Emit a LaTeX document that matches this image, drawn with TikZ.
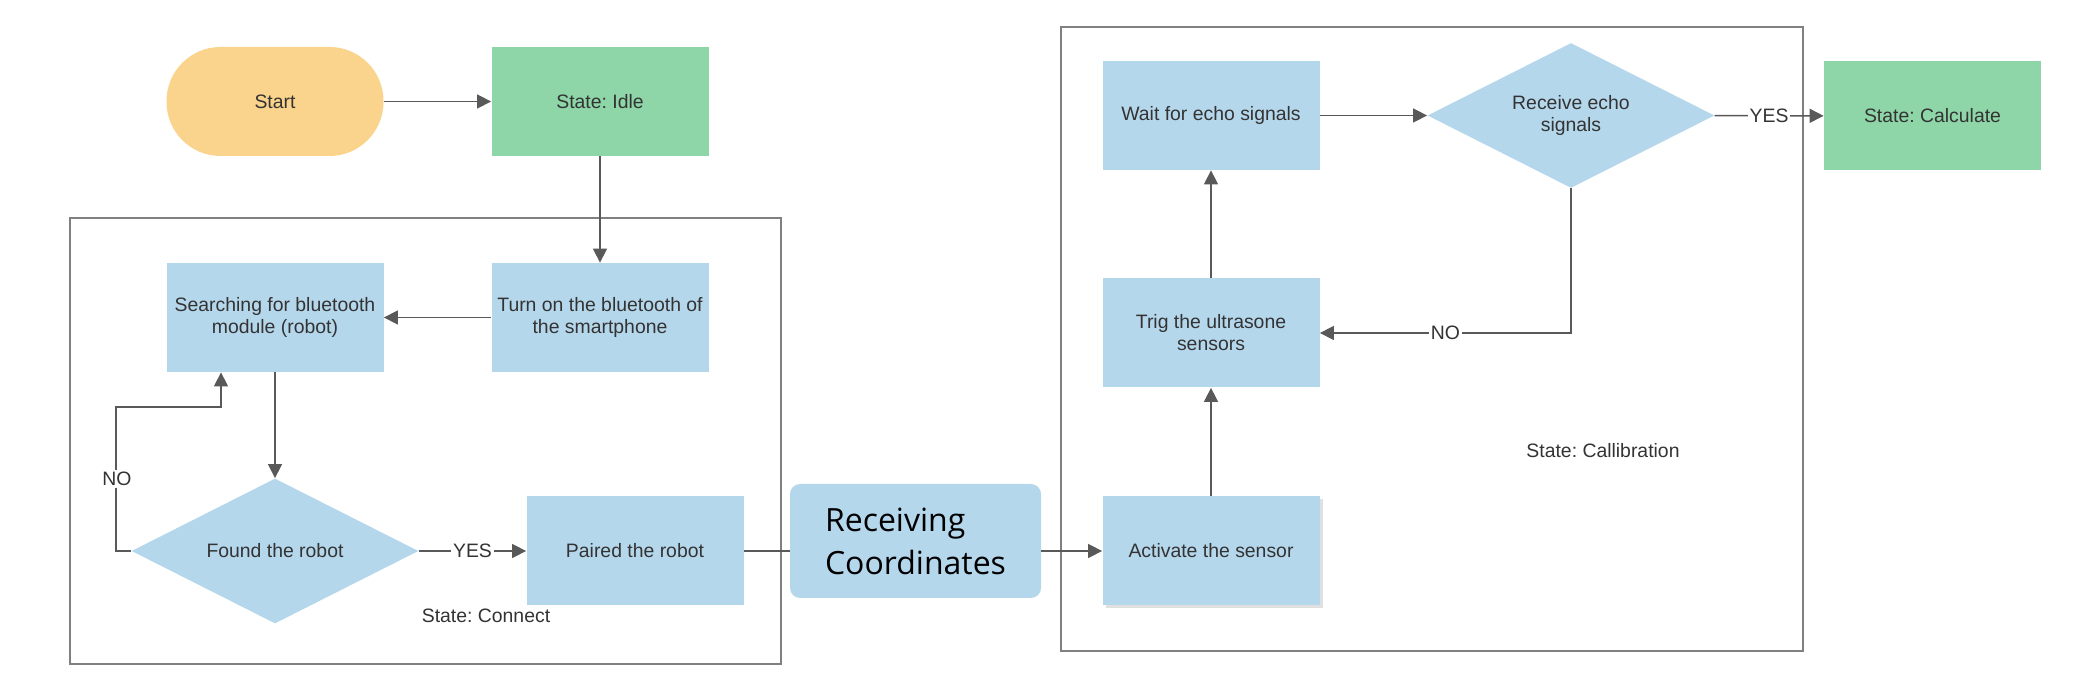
\documentclass[tikz,border=0pt]{standalone}
\usepackage{fontspec}
\setmainfont{Liberation Sans}
\newfontfamily\recvfont{Open Sans}
\usetikzlibrary{shapes.geometric,arrows.meta,shadows}
\frenchspacing
\definecolor{ink}{HTML}{333333}
\definecolor{wire}{HTML}{595959}
\definecolor{framec}{HTML}{808080}
\definecolor{startc}{HTML}{FAD48C}
\definecolor{statec}{HTML}{8ED6A8}
\definecolor{actc}{HTML}{B5D7EC}
\tikzset{
  txt/.style={font=\fontsize{9.7}{11}\selectfont,text=ink,align=center},
  termbox/.style={txt,rectangle,rounded corners=27pt,fill=startc,minimum width=108.5pt,minimum height=54.5pt,inner sep=0pt},
  statebox/.style={txt,rectangle,fill=statec,minimum width=108.5pt,minimum height=54.5pt,inner sep=1pt},
  actbox/.style={txt,rectangle,fill=actc,minimum width=108.5pt,minimum height=54.5pt,inner sep=1pt},
  decbox/.style={txt,diamond,shape aspect=2,fill=actc,minimum width=143.5pt,minimum height=72.5pt,inner sep=0pt},
  recvbox/.style={rectangle,rounded corners=5pt,fill=actc,minimum width=125.5pt,minimum height=57pt,
    font=\recvfont\fontsize{16}{21.5}\selectfont,align=left},
  con/.style={wire,line width=0.75pt,-{Triangle[length=7pt,width=7pt]}},
  link/.style={wire,line width=0.75pt},
  lbl/.style={txt,fill=white,inner sep=1pt},
  frame/.style={framec,line width=1pt},
}

\begin{document}
\begin{tikzpicture}[x=0.5pt,y=-0.5pt]
  \useasboundingbox (0,0) rectangle (2100,694);
  % state frames
  \draw[frame] (70,218) rectangle (781,664);
  \draw[frame] (1061,27) rectangle (1803,651);
  % start and idle
  \node[termbox] (start) at (275,101.5) {Start};
  \node[statebox] (idle) at (600,101.5) {State: Idle};
  % connect state
  \node[actbox] (turnon) at (600,317.5) {Turn on the bluetooth of\\the smartphone};
  \node[actbox] (search) at (275,317.5) {Searching for bluetooth\\module (robot)};
  \node[decbox] (found) at (275,551) {Found the robot};
  \node[actbox] (paired) at (635,551) {Paired the robot};
  \node[txt] (lconnect) at (486,616) {State: Connect};
  \node[recvbox] (recv) at (915.5,541) {Receiving\\Coordinates};
  % callibration state
  \node[actbox,drop shadow={shadow xshift=1.5pt,shadow yshift=-1.5pt,fill=black,opacity=0.12}] (activate) at (1211,551) {Activate the sensor};
  \node[actbox] (trig) at (1211,333) {Trig the ultrasone\\sensors};
  \node[actbox] (wait) at (1211,115.5) {Wait for echo signals};
  \node[decbox] (receive) at (1571,115.5) {Receive echo\\signals};
  \node[statebox] (calc) at (1932.5,116) {State: Calculate};
  \node[txt] (lcalib) at (1603,451) {State: Callibration};
  % connectors
  \draw[con] (start) -- (idle);
  \draw[con] (idle) -- (turnon);
  \draw[con] (turnon) -- (search);
  \draw[con] (search) -- (found);
  \draw[con] (found.west) -| ++(-15,-144) -| ([xshift=-27pt]search.south);
  \node[lbl] (lno1) at (117,479) {NO};
  \draw[con] (found) -- node[lbl] (lyes1) {YES} (paired);
  \draw[link] (paired.east) -- (paired.east -| recv.west);
  \draw[con] (recv.east |- activate.west) -- (activate.west);
  \draw[con] (activate) -- (trig);
  \draw[con] (trig) -- (wait);
  \draw[con] (wait) -- (receive);
  \draw[con] (receive) -- node[lbl] (lyes2) {YES} (calc);
  \draw[con] (receive.south) |- node[lbl,pos=0.75] (lno2) {NO} (trig.east);
\end{tikzpicture}
\end{document}
